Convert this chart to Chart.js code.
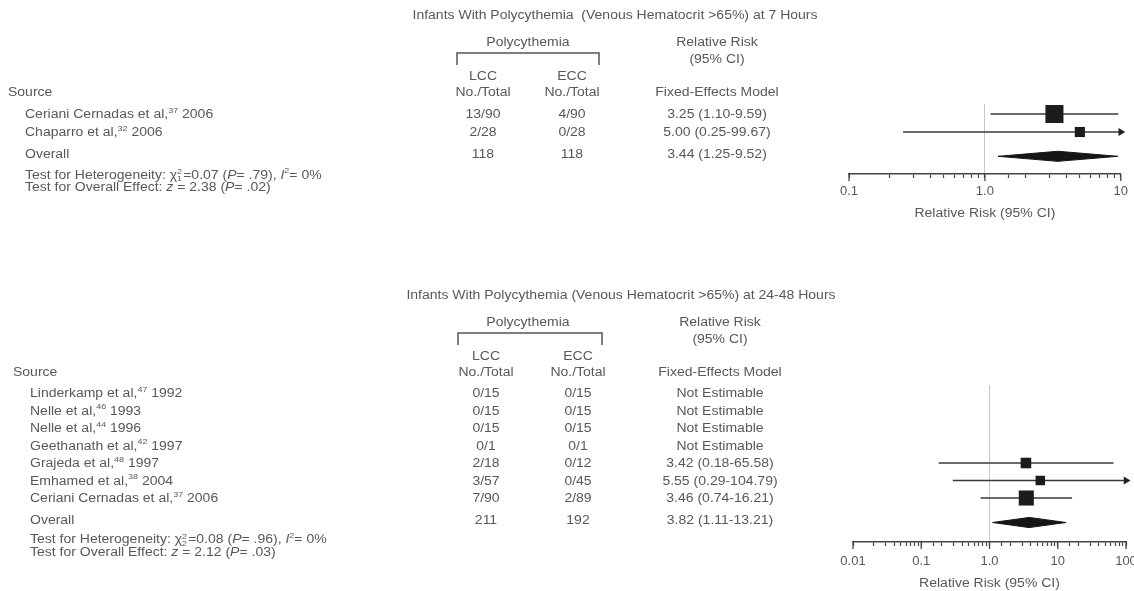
<!DOCTYPE html>
<html><head><meta charset="utf-8">
<script src="https://cdn.jsdelivr.net/npm/chart.js@4.4.0/dist/chart.umd.min.js"></script>
<style>
html,body{margin:0;padding:0;background:#fff;overflow:hidden;width:1134px;height:591px}
body{position:relative}
canvas{position:absolute;left:0}
#c1{top:0}
#c2{top:280px}
</style></head><body>
<canvas id="c1" width="1134" height="280"></canvas>
<canvas id="c2" width="1146" height="311"></canvas>
<script>
// ---------- Panel A: 7 hours ----------
const titleA = 'Infants With Polycythemia  (Venous Hematocrit >65%) at 7 Hours';
const studiesA = ['Ceriani Cernadas et al,', 'Chaparro et al,'];
const refsA = ['37', '32'];
const yearsA = ['2006', '2006'];
const lccA = ['13/90', '2/28'];
const eccA = ['4/90', '0/28'];
const rrA = [3.25, 5.00];
const lowA = [1.10, 0.25];
const highA = [9.59, 99.67];
const weightA = [76, 24];
const overallA = [3.44, 1.25, 9.52];
const totalsA = ['118', '118'];
const hetA = ['1', '0.07', '.79', '0'];
const effA = ['2.38', '.02'];
const tickValsA = [0.1, 1, 10];
const tickLabsA = ['0.1', '1.0', '10'];

// ---------- Panel B: 24-48 hours ----------
const titleB = 'Infants With Polycythemia (Venous Hematocrit >65%) at 24-48 Hours';
const studiesB = ['Linderkamp et al,', 'Nelle et al,', 'Nelle et al,', 'Geethanath et al,', 'Grajeda et al,', 'Emhamed et al,', 'Ceriani Cernadas et al,'];
const refsB = ['47', '46', '44', '42', '48', '38', '37'];
const yearsB = ['1992', '1993', '1996', '1997', '1997', '2004', '2006'];
const lccB = ['0/15', '0/15', '0/15', '0/1', '2/18', '3/57', '7/90'];
const eccB = ['0/15', '0/15', '0/15', '0/1', '0/12', '0/45', '2/89'];
const rrB = [null, null, null, null, 3.42, 5.55, 3.46];
const lowB = [null, null, null, null, 0.18, 0.29, 0.74];
const highB = [null, null, null, null, 65.58, 104.79, 16.21];
const weightB = [0, 0, 0, 0, 26, 21, 53];
const overallB = [3.82, 1.11, 13.21];
const totalsB = ['211', '192'];
const hetB = ['2', '0.08', '.96', '0'];
const effB = ['2.12', '.03'];
const tickValsB = [0.01, 0.1, 1, 10, 100];
const tickLabsB = ['0.01', '0.1', '1.0', '10', '100'];

const AXIS_TITLE = 'Relative Risk (95% CI)';
const FONT = '"Liberation Sans", Arial, Helvetica, sans-serif';
const SX = 1.12;
const COL = '#585858';
const FS = 12.5;

function fontFor(kind, size) {
  const s = (kind === 'sup' || kind === 'ss') ? Math.round(size * 0.62) : size;
  return (kind === 'i' ? 'italic ' : '') + s + 'px ' + FONT;
}
function widthOf(ctx, p, size) {
  ctx.font = fontFor(p[1], size);
  if (p[1] === 'ss') {
    const [a, b] = p[0].split('|');
    return Math.max(ctx.measureText(a).width, ctx.measureText(b).width) + 1;
  }
  return ctx.measureText(p[0]).width;
}
function rich(ctx, parts, x, y, align, size) {
  size = size || FS;
  parts = parts.map(p => typeof p === 'string' ? [p, 'n'] : p);
  const total = parts.reduce((s, p) => s + widthOf(ctx, p, size), 0) * SX;
  let cx = align === 'center' ? x - total / 2 : align === 'right' ? x - total : x;
  ctx.save();
  ctx.fillStyle = COL; ctx.textBaseline = 'middle'; ctx.textAlign = 'left';
  parts.forEach(p => {
    const w = widthOf(ctx, p, size);
    ctx.save(); ctx.translate(cx, y); ctx.scale(SX, 1);
    if (p[1] === 'sup') ctx.fillText(p[0], 0, -size * 0.35);
    else if (p[1] === 'ss') { const [a, b] = p[0].split('|'); ctx.fillText(a, 0, -size * 0.28); ctx.fillText(b, 0, size * 0.3); }
    else ctx.fillText(p[0], 0, 0);
    ctx.restore();
    cx += w * SX;
  });
  ctx.restore();
}
const fmt = v => v.toFixed(2);

function tablePlugin(P) {
  return {
    id: 'table',
    afterDraw(chart) {
      const ctx = chart.ctx, ys = chart.scales.y, xs = chart.scales.x;
      // longer major ticks
      ctx.save(); ctx.strokeStyle = '#444'; ctx.lineWidth = 1.3;
      P.tickVals.forEach(v => {
        const px = xs.getPixelForValue(v);
        ctx.beginPath(); ctx.moveTo(px, xs.top); ctx.lineTo(px, xs.top + 7); ctx.stroke();
      });
      ctx.restore();
      rich(ctx, [AXIS_TITLE], (chart.chartArea.left + chart.chartArea.right) / 2, xs.top + P.axT, 'center');

      rich(ctx, [P.title], P.titleX, 16, 'center');
      rich(ctx, ['Polycythemia'], P.polyX, 43, 'center');
      ctx.save(); ctx.strokeStyle = '#555'; ctx.lineWidth = 1.5; ctx.beginPath();
      ctx.moveTo(P.brL, 65); ctx.lineTo(P.brL, 53); ctx.lineTo(P.brR, 53); ctx.lineTo(P.brR, 65); ctx.stroke(); ctx.restore();
      rich(ctx, ['Relative Risk'], P.rrX, 43, 'center');
      rich(ctx, ['(95% CI)'], P.rrX, 60, 'center');
      rich(ctx, ['LCC'], P.lccX, 77, 'center');
      rich(ctx, ['ECC'], P.eccX, 77, 'center');
      rich(ctx, ['No./Total'], P.lccX, 93, 'center');
      rich(ctx, ['No./Total'], P.eccX, 93, 'center');
      rich(ctx, ['Fixed-Effects Model'], P.rrX, 93, 'center');
      rich(ctx, ['Source'], P.srcX, 93, 'left');
      P.studies.forEach((s, i) => {
        const y = ys.getPixelForValue(i) + 1;
        rich(ctx, [s, [P.refs[i], 'sup'], ' ' + P.years[i]], P.studyX, y, 'left');
        rich(ctx, [P.lcc[i]], P.lccX, y, 'center');
        rich(ctx, [P.ecc[i]], P.eccX, y, 'center');
        const t = P.rr[i] == null ? 'Not Estimable' : `${fmt(P.rr[i])} (${fmt(P.low[i])}-${fmt(P.high[i])})`;
        rich(ctx, [t], P.rrX, y, 'center');
      });
      const oy = ys.getPixelForValue(P.overallRow) - 2;
      rich(ctx, ['Overall'], P.studyX, oy, 'left');
      rich(ctx, [P.totals[0]], P.lccX, oy, 'center');
      rich(ctx, [P.totals[1]], P.eccX, oy, 'center');
      rich(ctx, [`${fmt(P.overall[0])} (${fmt(P.overall[1])}-${fmt(P.overall[2])})`], P.rrX, oy, 'center');
      rich(ctx, ['Test for Heterogeneity: ', 'χ', ['2|' + P.het[0], 'ss'], '=' + P.het[1] + ' (', ['P', 'i'], '= ' + P.het[2] + '), ', ['I', 'i'], ['2', 'sup'], '= ' + P.het[3] + '%'], P.studyX, oy + P.t1, 'left');
      rich(ctx, ['Test for Overall Effect: ', ['z', 'i'], ' = ' + P.eff[0] + ' (', ['P', 'i'], '= ' + P.eff[1] + ')'], P.studyX, oy + P.t2, 'left');
    }
  };
}

function makeChart(id, P) {
  const datasets = [];
  const sq = [], sqR = [];
  P.rr.forEach((v, i) => {
    if (v == null) return;
    const arrow = P.high[i] > P.xMax;
    const hi = arrow ? P.xMax : P.high[i];
    datasets.push({
      data: [{ x: P.low[i], y: i }, { x: hi, y: i }], showLine: true,
      borderColor: '#3a3a3a', borderWidth: 1.6,
      pointRadius: [0, arrow ? 4.5 : 0], pointStyle: 'triangle', rotation: 90,
      pointBackgroundColor: '#222', pointBorderWidth: 0, clip: false, order: 2
    });
    sq.push({ x: v, y: i });
    sqR.push(2.07 * Math.sqrt(P.weight[i]) / (2 * Math.SQRT1_2));
  });
  datasets.push({ data: sq, pointStyle: 'rect', pointRadius: sqR, backgroundColor: '#1c1c1c', borderWidth: 0, clip: false, order: 1 });
  const [orr, olo, ohi] = P.overall, oy = P.overallRow, h = P.diamondH;
  datasets.push({
    data: [{ x: olo, y: oy }, { x: orr, y: oy - h }, { x: ohi, y: oy }, { x: orr, y: oy + h }, { x: olo, y: oy }],
    showLine: true, fill: 'shape', backgroundColor: '#151515', borderColor: '#151515', borderWidth: 1,
    pointRadius: 0, tension: 0, clip: false, order: 0
  });
  return new Chart(document.getElementById(id), {
    type: 'scatter',
    data: { datasets },
    plugins: [tablePlugin(P)],
    options: {
      responsive: false, animation: false, events: [],
      layout: { padding: P.pad },
      plugins: { legend: { display: false }, tooltip: { enabled: false } },
      scales: {
        x: {
          type: 'logarithmic', min: P.xMin, max: P.xMax, position: 'bottom',
          ticks: {
            autoSkip: false, maxRotation: 0, padding: P.tickPad, color: '#585858',
            font: { family: FONT, size: 13 },
            callback: v => { const k = P.tickVals.findIndex(t => Math.abs(t - v) / t < 1e-6); return k >= 0 ? P.tickLabs[k] : ''; }
          },
          grid: {
            drawOnChartArea: true, lineWidth: 1,
            color: c => (c.tick && Math.abs(c.tick.value - 1) < 1e-9) ? '#c8c8c8' : 'rgba(0,0,0,0)',
            tickColor: '#444', tickLength: 4, tickWidth: 1.2
          },
          border: { display: true, color: '#444', width: 1.5 },
          title: { display: false },
          afterFit: s => { s.height = 48; }
        },
        y: { type: 'linear', display: false, reverse: true, min: P.yMin, max: P.yMax }
      }
    }
  });
}

makeChart('c1', {
  title: titleA, studies: studiesA, refs: refsA, years: yearsA, lcc: lccA, ecc: eccA,
  rr: rrA, low: lowA, high: highA, weight: weightA, overall: overallA, totals: totalsA,
  het: hetA, eff: effA, tickVals: tickValsA, tickLabs: tickLabsA,
  xMin: 0.1, xMax: 10, yMin: -0.556, yMax: 3.333, overallRow: 2.35, diamondH: 0.28,
  pad: { left: 849, right: 13, top: 104, bottom: 58 },
  titleX: 615, polyX: 528, brL: 457, brR: 599, rrX: 717, lccX: 483, eccX: 572,
  srcX: 8, studyX: 25, t1: 21, t2: 33, axT: 40, tickPad: 6
});
makeChart('c2', {
  title: titleB, studies: studiesB, refs: refsB, years: yearsB, lcc: lccB, ecc: eccB,
  rr: rrB, low: lowB, high: highB, weight: weightB, overall: overallB, totals: totalsB,
  het: hetB, eff: effB, tickVals: tickValsB, tickLabs: tickLabsB,
  xMin: 0.01, xMax: 100, yMin: -0.457, yMax: 8.514, overallRow: 7.4, diamondH: 0.29,
  pad: { left: 853, right: 20, top: 105, bottom: 1 },
  titleX: 621, polyX: 528, brL: 458, brR: 602, rrX: 720, lccX: 486, eccX: 578,
  srcX: 13, studyX: 30, t1: 19.5, t2: 32, axT: 42, tickPad: 8
});
</script>
</body></html>
